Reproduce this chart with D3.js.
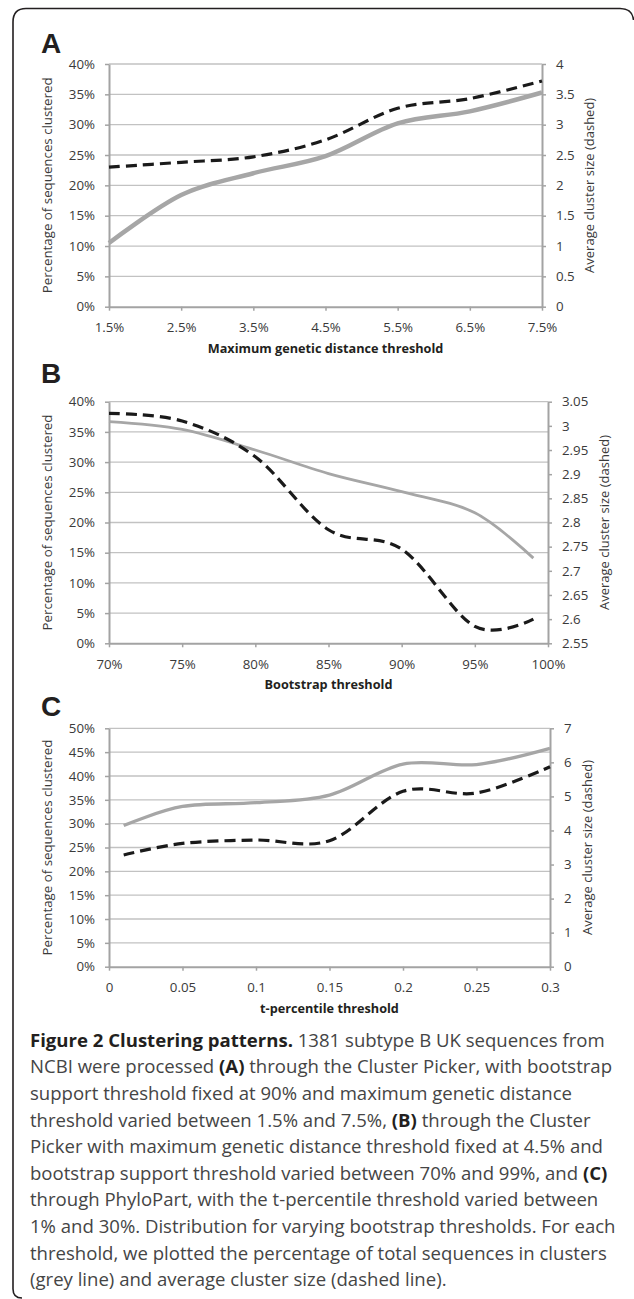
<!DOCTYPE html>
<html>
<head>
<meta charset="utf-8">
<script src="https://cdn.jsdelivr.net/npm/d3@7"></script>
<style>
  html, body { margin: 0; padding: 0; background: #fff; }
  svg { display: block; }
</style>
</head>
<body>
<div id="chart"></div>
<script>
(function() {
    'use strict';

    // Panel A - max genetic distance threshold
    const aThreshold = [1.5, 2.5, 3.5, 4.5, 5.5, 6.5, 7.5];
    const aPercent = [10.5, 18.4, 22.0, 24.8, 30.2, 32.2, 35.3];
    const aSize = [2.30, 2.38, 2.47, 2.75, 3.27, 3.43, 3.72];
    const aXTicks = [1.5, 2.5, 3.5, 4.5, 5.5, 6.5, 7.5];
    const aLeftTicks = [0, 5, 10, 15, 20, 25, 30, 35, 40];
    const aRightTicks = [0, 0.5, 1, 1.5, 2, 2.5, 3, 3.5, 4];

    // Panel B - bootstrap threshold
    const bThreshold = [70, 75, 80, 85, 90, 95, 99];
    const bPercent = [36.7, 35.4, 32.0, 28.1, 25.1, 21.6, 14.1];
    const bSize = [3.026, 3.010, 2.936, 2.785, 2.745, 2.585, 2.600];
    const bXTicks = [70, 75, 80, 85, 90, 95, 100];
    const bLeftTicks = [0, 5, 10, 15, 20, 25, 30, 35, 40];
    const bRightTicks = [2.55, 2.6, 2.65, 2.7, 2.75, 2.8, 2.85, 2.9, 2.95, 3, 3.05];

    // Panel C - t-percentile threshold
    const cThreshold = [0.01, 0.05, 0.1, 0.15, 0.2, 0.25, 0.3];
    const cPercent = [29.6, 33.6, 34.4, 36.0, 42.5, 42.4, 45.8];
    const cSize = [3.28, 3.62, 3.72, 3.70, 5.15, 5.10, 5.87];
    const cXTicks = [0, 0.05, 0.1, 0.15, 0.2, 0.25, 0.3];
    const cLeftTicks = [0, 5, 10, 15, 20, 25, 30, 35, 40, 45, 50];
    const cRightTicks = [0, 1, 2, 3, 4, 5, 6, 7];

    const width = 634;
    const height = 1299;
    const font = "'Open Sans', 'Noto Sans', sans-serif";

    const svg = d3.select("#chart")
        .append("svg")
        .attr("width", width)
        .attr("height", height);

    // frame (only left/top edges and corners are visible in the figure)
    svg.append("path")
        .attr("d", "M22,1298 Q13,1298 13,1289 L13,22 Q13,8.5 26,8.5 L620,8.5 Q632.5,8.5 633.5,20")
        .attr("fill", "none")
        .attr("stroke", "#231f20")
        .attr("stroke-width", 1.6);

    function drawPanel(p) {
        const x = d3.scaleLinear().domain(p.xDomain).range([p.left, p.right]);
        const yL = d3.scaleLinear().domain(p.leftDomain).range([p.bottom, p.top]);
        const yR = d3.scaleLinear().domain(p.rightDomain).range([p.bottom, p.top]);

        const g = svg.append("g");

        // panel letter
        g.append("text")
            .attr("x", 41)
            .attr("y", p.letterY)
            .attr("font-family", "'Liberation Sans', Arial, sans-serif")
            .attr("font-weight", "bold")
            .attr("font-size", "28px")
            .attr("fill", "#231f20")
            .text(p.letter);

        // gridlines
        g.append("g")
            .selectAll("line")
            .data(p.leftTicks.slice(1))
            .join("line")
            .attr("x1", p.left)
            .attr("x2", p.right)
            .attr("y1", d => yL(d))
            .attr("y2", d => yL(d))
            .attr("stroke", "#c2c2c2")
            .attr("stroke-width", 1.3);

        function styleAxis(sel) {
            sel.select(".domain").attr("stroke", "#a3a3a3").attr("stroke-width", 2);
            sel.selectAll(".tick line").attr("stroke", "#a3a3a3").attr("stroke-width", 1.5);
            sel.selectAll(".tick text")
                .attr("fill", "#3a3a3a")
                .attr("font-family", font)
                .attr("font-size", "13.3px");
        }

        // left axis
        g.append("g")
            .attr("transform", `translate(${p.left},0)`)
            .call(d3.axisLeft(yL).tickValues(p.leftTicks).tickSize(4).tickSizeOuter(0)
                .tickPadding(10).tickFormat(d => d + "%"))
            .call(styleAxis);

        // right axis
        g.append("g")
            .attr("transform", `translate(${p.right},0)`)
            .call(d3.axisRight(yR).tickValues(p.rightTicks).tickSize(4).tickSizeOuter(0)
                .tickPadding(10).tickFormat(p.rightFormat))
            .call(styleAxis);

        // bottom axis
        g.append("g")
            .attr("transform", `translate(0,${p.bottom})`)
            .call(d3.axisBottom(x).tickValues(p.xTicks).tickSize(4).tickSizeOuter(0)
                .tickPadding(12).tickFormat(p.xFormat))
            .call(styleAxis);

        // axis titles
        g.append("text")
            .attr("transform", `translate(${p.left + (p.right - p.left) / 2},${p.bottom + 46})`)
            .attr("text-anchor", "middle")
            .attr("font-family", font)
            .attr("font-weight", "bold")
            .attr("font-size", "12.7px")
            .attr("fill", "#231f20")
            .text(p.xTitle);

        g.append("text")
            .attr("transform", `translate(52,${(p.top + p.bottom) / 2}) rotate(-90)`)
            .attr("text-anchor", "middle")
            .attr("font-family", font)
            .attr("font-size", "13.3px")
            .attr("fill", "#3a3a3a")
            .text("Percentage of sequences clustered");

        g.append("text")
            .attr("transform", `translate(${p.rightTitleX},${(p.top + p.bottom) / 2}) rotate(-90)`)
            .attr("text-anchor", "middle")
            .attr("font-family", font)
            .attr("font-size", "13px")
            .attr("fill", "#3a3a3a")
            .text("Average cluster size (dashed)");

        const rows = p.xs.map((d, i) => ({ x: d, pct: p.pct[i], size: p.size[i] }));

        // grey line: percentage clustered
        g.append("path")
            .datum(rows)
            .attr("fill", "none")
            .attr("stroke", "#a6a6a6")
            .attr("stroke-width", p.greyWidth)
            .attr("d", d3.line().curve(d3.curveCardinal.tension(0))
                .x(d => x(d.x)).y(d => yL(d.pct)));

        // dashed line: average cluster size
        g.append("path")
            .datum(rows)
            .attr("fill", "none")
            .attr("stroke", "#1a1a1a")
            .attr("stroke-width", 3.2)
            .attr("stroke-dasharray", "11,6")
            .attr("d", d3.line().curve(d3.curveCardinal.tension(0))
                .x(d => x(d.x)).y(d => yR(d.size)));
    }

    drawPanel({
        letter: "A", letterY: 53,
        left: 109, right: 542, top: 64, bottom: 306.7,
        xDomain: [1.5, 7.5], leftDomain: [0, 40], rightDomain: [0, 4],
        xTicks: aXTicks, leftTicks: aLeftTicks, rightTicks: aRightTicks,
        xFormat: d => d + "%", rightFormat: d => String(d),
        xTitle: "Maximum genetic distance threshold",
        rightTitleX: 594,
        xs: aThreshold, pct: aPercent, size: aSize, greyWidth: 4.5
    });

    drawPanel({
        letter: "B", letterY: 383.3,
        left: 109, right: 548, top: 401.7, bottom: 643.3,
        xDomain: [70, 100], leftDomain: [0, 40], rightDomain: [2.55, 3.05],
        xTicks: bXTicks, leftTicks: bLeftTicks, rightTicks: bRightTicks,
        xFormat: d => d + "%", rightFormat: d => String(+d.toFixed(2)),
        xTitle: "Bootstrap threshold",
        rightTitleX: 609,
        xs: bThreshold, pct: bPercent, size: bSize, greyWidth: 2.8
    });

    drawPanel({
        letter: "C", letterY: 715.5,
        left: 109, right: 550, top: 728.3, bottom: 966.7,
        xDomain: [0, 0.3], leftDomain: [0, 50], rightDomain: [0, 7],
        xTicks: cXTicks, leftTicks: cLeftTicks, rightTicks: cRightTicks,
        xFormat: d => String(+d.toFixed(2)), rightFormat: d => String(d),
        xTitle: "t-percentile threshold",
        rightTitleX: 592,
        xs: cThreshold, pct: cPercent, size: cSize, greyWidth: 3.3
    });

    // caption, one entry per printed line: [text, bold?]
    const caption = [
        [["Figure 2 Clustering patterns.", true], [" 1381 subtype B UK sequences from", false]],
        [["NCBI were processed ", false], ["(A)", true], [" through the Cluster Picker, with bootstrap", false]],
        [["support threshold fixed at 90% and maximum genetic distance", false]],
        [["threshold varied between 1.5% and 7.5%, ", false], ["(B)", true], [" through the Cluster", false]],
        [["Picker with maximum genetic distance threshold fixed at 4.5% and", false]],
        [["bootstrap support threshold varied between 70% and 99%, and ", false], ["(C)", true]],
        [["through PhyloPart, with the t-percentile threshold varied between", false]],
        [["1% and 30%. Distribution for varying bootstrap thresholds. For each", false]],
        [["threshold, we plotted the percentage of total sequences in clusters", false]],
        [["(grey line) and average cluster size (dashed line).", false]]
    ];

    const capText = svg.append("g")
        .selectAll("text")
        .data(caption)
        .join("text")
        .attr("x", 30)
        .attr("y", (d, i) => 1046.7 + i * 26.6)
        .attr("font-family", font)
        .attr("font-size", "17px")
        .attr("fill", "#454545");

    capText.selectAll("tspan")
        .data(d => d)
        .join("tspan")
        .attr("font-weight", d => d[1] ? "bold" : null)
        .attr("fill", d => d[1] ? "#231f20" : null)
        .text(d => d[0]);

    // fit caption so the longest line spans the text block width
    let widest = 0;
    capText.each(function() { widest = Math.max(widest, this.getComputedTextLength()); });
    const fitted = 17 * 586 / widest;
    capText.attr("font-size", fitted + "px");

})();
</script>
</body>
</html>
